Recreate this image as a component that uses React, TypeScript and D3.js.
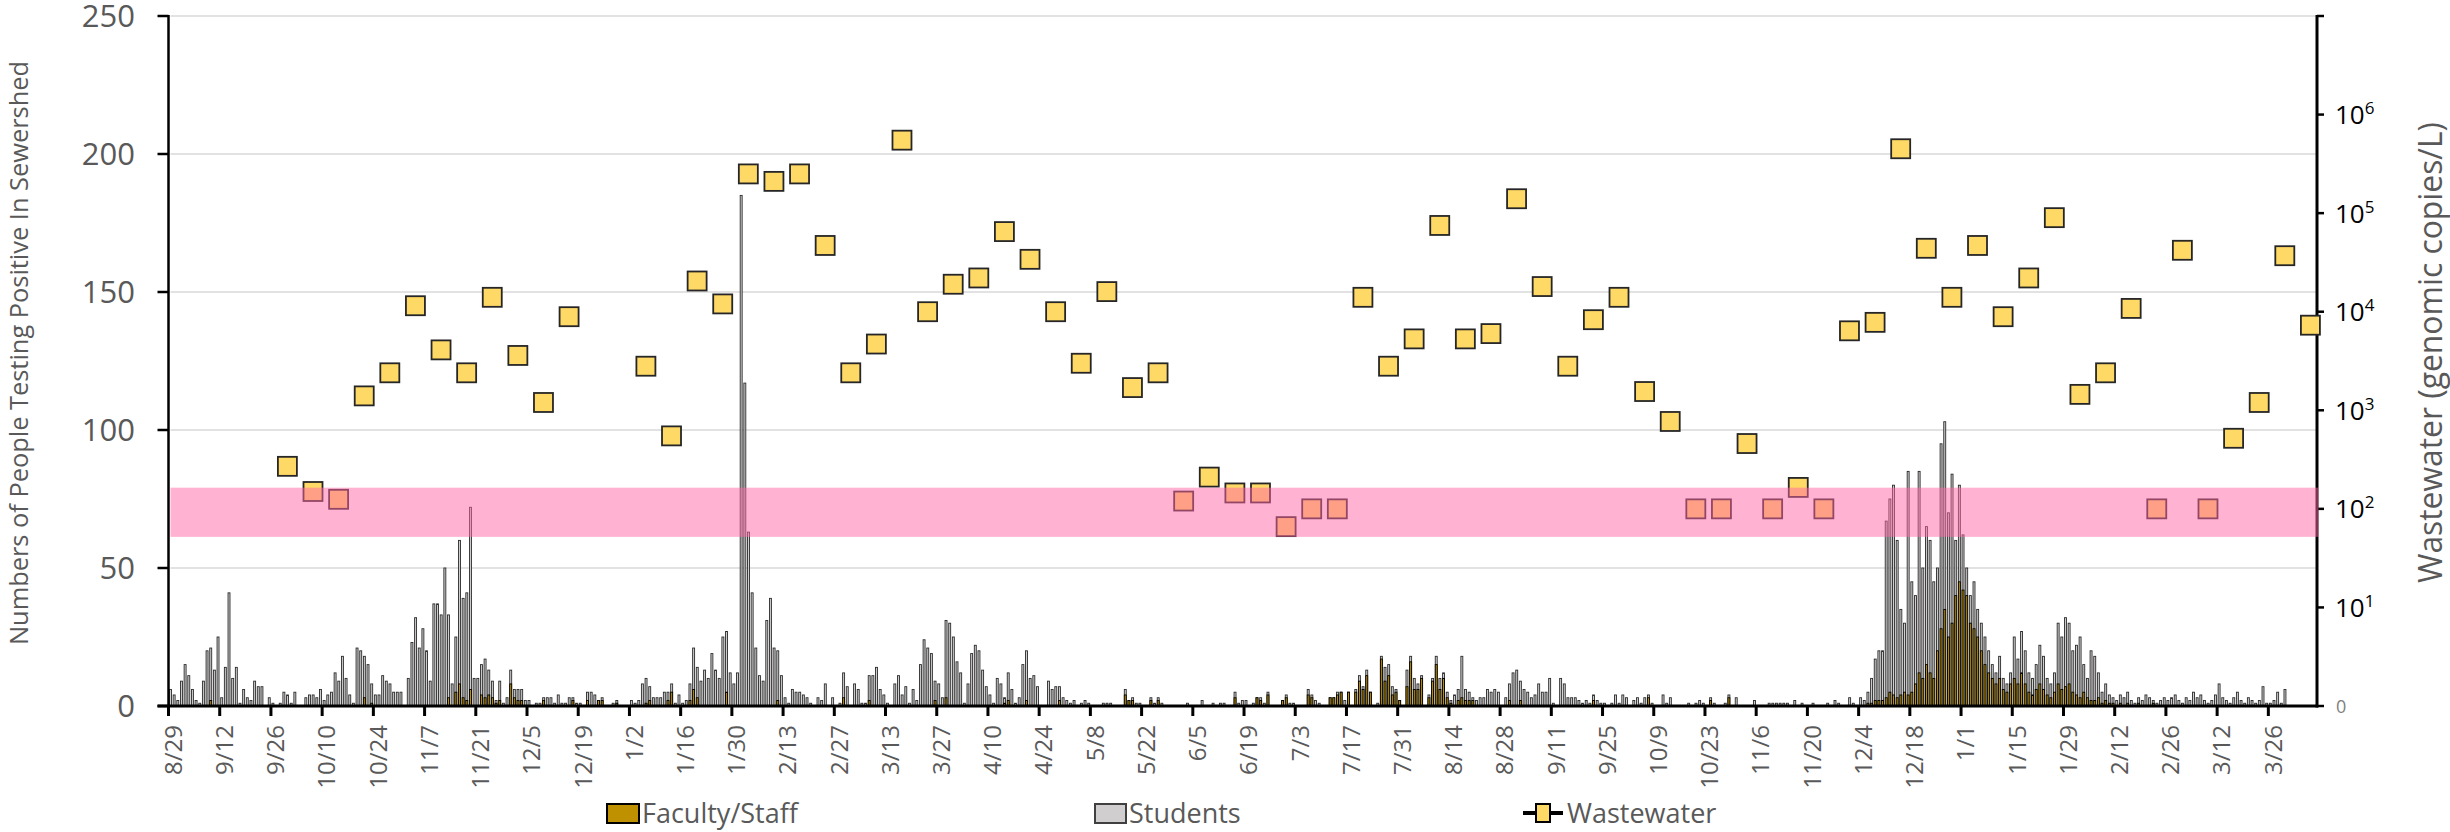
import React from "react";
import * as d3 from "d3";

// Daily positive tests; one row per two-week block, each row starting on an axis label date.
const FIRST_DAY = "2020-08-29";

const STUDENT_ROWS: number[][] = [
  [6, 4, 2, 9, 15, 11, 6, 2, 1, 9, 20, 21, 13, 25],
  [3, 14, 41, 10, 14, 1, 6, 3, 2, 9, 7, 7, 0, 3],
  [1, 0, 1, 5, 4, 1, 5, 0, 0, 3, 4, 4, 3, 6],
  [2, 4, 5, 12, 9, 18, 10, 4, 1, 21, 20, 18, 15, 8],
  [4, 4, 11, 9, 8, 5, 5, 5, 0, 10, 23, 32, 21, 28],
  [20, 9, 37, 37, 33, 50, 33, 8, 25, 60, 39, 41, 72, 10],
  [10, 15, 17, 13, 9, 2, 9, 1, 3, 13, 6, 6, 6, 2],
  [2, 0, 1, 1, 3, 3, 3, 1, 4, 1, 1, 3, 3, 1],
  [1, 0, 5, 5, 4, 2, 3, 0, 0, 1, 2, 0, 0, 0],
  [2, 1, 2, 8, 10, 7, 3, 3, 3, 5, 5, 8, 1, 4],
  [1, 2, 8, 21, 14, 9, 13, 10, 19, 13, 10, 25, 27, 12],
  [8, 12, 185, 117, 63, 41, 21, 11, 9, 31, 39, 21, 20, 11],
  [3, 1, 6, 5, 5, 4, 3, 1, 0, 3, 2, 8, 0, 3],
  [0, 1, 12, 7, 0, 8, 6, 1, 1, 11, 11, 14, 6, 4],
  [1, 0, 8, 11, 4, 7, 1, 6, 2, 15, 24, 21, 19, 9],
  [8, 3, 31, 30, 25, 16, 12, 1, 8, 19, 22, 20, 13, 7],
  [4, 1, 10, 8, 3, 12, 6, 1, 3, 15, 20, 10, 11, 7],
  [0, 0, 9, 6, 7, 7, 3, 2, 1, 2, 0, 1, 2, 1],
  [0, 0, 0, 1, 1, 1, 0, 0, 0, 6, 2, 3, 1, 1],
  [0, 0, 3, 1, 3, 1, 0, 0, 0, 0, 0, 0, 1, 0],
  [0, 0, 2, 0, 0, 1, 0, 1, 1, 0, 0, 5, 1, 2],
  [2, 0, 1, 3, 3, 1, 5, 0, 0, 0, 2, 4, 1, 1],
  [0, 0, 0, 6, 4, 2, 1, 0, 0, 3, 3, 5, 5, 2],
  [5, 0, 6, 11, 7, 13, 5, 0, 1, 18, 14, 15, 7, 6],
  [2, 0, 13, 18, 10, 8, 11, 0, 4, 10, 18, 10, 12, 5],
  [2, 4, 6, 18, 6, 5, 3, 2, 3, 3, 6, 5, 6, 5],
  [0, 3, 8, 12, 13, 9, 6, 5, 3, 4, 8, 5, 5, 10],
  [1, 0, 10, 8, 3, 3, 3, 2, 1, 2, 1, 4, 2, 1],
  [1, 0, 1, 4, 1, 4, 3, 0, 2, 3, 1, 3, 4, 1],
  [0, 0, 4, 1, 3, 0, 0, 0, 0, 1, 0, 1, 2, 1],
  [0, 3, 1, 0, 0, 1, 4, 0, 3, 0, 0, 0, 0, 2],
  [0, 0, 0, 1, 1, 1, 1, 1, 1, 0, 2, 0, 1, 0],
  [0, 1, 0, 0, 0, 1, 0, 2, 1, 0, 0, 3, 1, 0],
  [3, 2, 5, 10, 17, 20, 20, 67, 75, 80, 60, 35, 30, 85],
  [45, 40, 85, 50, 65, 60, 45, 50, 95, 103, 70, 84, 60, 80],
  [62, 50, 40, 45, 35, 30, 25, 20, 15, 12, 18, 10, 8, 12],
  [25, 17, 27, 20, 12, 10, 15, 22, 18, 10, 8, 12, 30, 25],
  [32, 30, 20, 22, 25, 15, 10, 20, 18, 12, 5, 8, 4, 3],
  [2, 4, 3, 5, 2, 1, 3, 2, 4, 3, 2, 1, 2, 3],
  [2, 3, 4, 2, 1, 3, 2, 5, 3, 4, 2, 1, 2, 4],
  [8, 3, 2, 1, 3, 5, 2, 1, 3, 2, 1, 2, 7, 1],
  [1, 2, 5, 1, 6],
];

const FACULTY_STAFF_ROWS: number[][] = [
  [0, 0, 0, 0, 0, 0, 0, 0, 0, 0, 0, 2, 0, 0],
  [0, 0, 0, 0, 0, 0, 0, 0, 0, 0, 0, 0, 0, 0],
  [0, 0, 0, 0, 0, 0, 0, 0, 0, 0, 0, 0, 0, 0],
  [0, 0, 0, 0, 0, 0, 0, 0, 0, 0, 0, 3, 0, 1],
  [0, 0, 0, 0, 0, 0, 0, 0, 0, 0, 0, 0, 0, 0],
  [0, 0, 0, 0, 0, 0, 3, 0, 5, 8, 3, 2, 6, 0],
  [0, 4, 3, 4, 3, 1, 2, 0, 0, 8, 3, 2, 2, 0],
  [0, 0, 0, 0, 2, 0, 0, 0, 0, 0, 0, 0, 2, 0],
  [0, 0, 2, 0, 0, 2, 2, 0, 0, 0, 1, 0, 0, 0],
  [0, 0, 0, 0, 1, 2, 0, 0, 0, 0, 2, 5, 0, 0],
  [0, 0, 2, 6, 3, 0, 0, 0, 0, 0, 0, 0, 5, 0],
  [0, 0, 0, 0, 0, 0, 0, 0, 0, 0, 0, 0, 2, 0],
  [0, 0, 0, 0, 0, 0, 0, 0, 0, 0, 0, 0, 0, 0],
  [0, 0, 3, 0, 0, 0, 0, 0, 0, 2, 0, 0, 0, 0],
  [0, 0, 0, 0, 0, 0, 0, 0, 0, 0, 0, 0, 0, 2],
  [0, 0, 3, 0, 0, 0, 0, 0, 0, 0, 0, 0, 0, 0],
  [0, 0, 0, 0, 1, 2, 0, 0, 0, 0, 2, 0, 0, 0],
  [0, 0, 0, 0, 0, 2, 0, 0, 0, 0, 0, 0, 0, 0],
  [0, 0, 0, 0, 0, 0, 0, 0, 0, 4, 2, 2, 0, 0],
  [0, 0, 2, 0, 2, 0, 0, 0, 0, 0, 0, 0, 0, 0],
  [0, 0, 0, 0, 0, 0, 0, 0, 0, 0, 0, 3, 0, 0],
  [0, 0, 0, 3, 2, 0, 4, 0, 0, 0, 2, 3, 0, 0],
  [0, 0, 0, 4, 3, 0, 0, 0, 0, 3, 3, 4, 5, 0],
  [5, 0, 5, 9, 6, 11, 5, 0, 0, 17, 9, 11, 4, 5],
  [2, 0, 7, 16, 6, 6, 10, 0, 3, 9, 15, 6, 10, 3],
  [1, 0, 2, 3, 2, 2, 2, 0, 0, 0, 0, 0, 0, 0],
  [0, 0, 2, 0, 0, 2, 0, 0, 0, 0, 0, 0, 0, 0],
  [0, 0, 0, 0, 0, 0, 0, 0, 0, 0, 0, 2, 0, 0],
  [0, 0, 0, 0, 0, 0, 0, 0, 0, 0, 0, 0, 3, 0],
  [0, 0, 0, 0, 0, 0, 0, 0, 0, 0, 0, 0, 0, 0],
  [0, 2, 0, 0, 0, 0, 3, 0, 0, 0, 0, 0, 0, 0],
  [0, 0, 0, 0, 0, 0, 0, 0, 0, 0, 0, 0, 0, 0],
  [0, 0, 0, 0, 0, 0, 0, 0, 0, 0, 0, 0, 0, 0],
  [0, 0, 1, 1, 2, 2, 2, 3, 5, 4, 3, 4, 5, 4],
  [5, 8, 12, 10, 15, 12, 10, 20, 28, 35, 25, 30, 40, 45],
  [42, 40, 30, 28, 25, 20, 15, 12, 10, 8, 10, 6, 5, 8],
  [10, 8, 12, 8, 5, 4, 6, 8, 6, 4, 3, 5, 8, 6],
  [7, 8, 5, 4, 3, 5, 3, 2, 2, 3, 1, 2, 1, 1],
  [0, 1, 0, 1, 0, 0, 1, 0, 0, 0, 1, 0, 0, 0],
  [0, 0, 0, 0, 0, 0, 0, 0, 0, 0, 0, 0, 0, 0],
  [0, 0, 0, 0, 0, 0, 0, 0, 0, 0, 0, 0, 0, 0],
  [0, 0, 0, 0, 0],
];

// Weekly wastewater samples (genomic copies per litre)
const WASTEWATER_DATES: string[] = [
  "2020-09-30", "2020-10-07", "2020-10-14", "2020-10-21", "2020-10-28", "2020-11-04",
  "2020-11-11", "2020-11-18", "2020-11-25", "2020-12-02", "2020-12-09", "2020-12-16",
  "2021-01-06", "2021-01-13", "2021-01-20", "2021-01-27", "2021-02-03", "2021-02-10",
  "2021-02-17", "2021-02-24", "2021-03-03", "2021-03-10", "2021-03-17", "2021-03-24",
  "2021-03-31", "2021-04-07", "2021-04-14", "2021-04-21", "2021-04-28", "2021-05-05",
  "2021-05-12", "2021-05-19", "2021-05-26", "2021-06-02", "2021-06-09", "2021-06-16",
  "2021-06-23", "2021-06-30", "2021-07-07", "2021-07-14", "2021-07-21", "2021-07-28",
  "2021-08-04", "2021-08-11", "2021-08-18", "2021-08-25", "2021-09-01", "2021-09-08",
  "2021-09-15", "2021-09-22", "2021-09-29", "2021-10-06", "2021-10-13", "2021-10-20",
  "2021-10-27", "2021-11-03", "2021-11-10", "2021-11-17", "2021-11-24", "2021-12-01",
  "2021-12-08", "2021-12-15", "2021-12-22", "2021-12-29", "2022-01-05", "2022-01-12",
  "2022-01-19", "2022-01-26", "2022-02-02", "2022-02-09", "2022-02-16", "2022-02-23",
  "2022-03-02", "2022-03-09", "2022-03-16", "2022-03-23", "2022-03-30", "2022-04-06",
];

const WASTEWATER_COPIES: number[] = [
  270, 150, 125, 1400, 2400, 11500, 4100, 2400, 14000, 3600, 1200, 8900,
  2800, 550, 20500, 12000, 250000, 210000, 250000, 47000, 2400, 4700, 550000, 10000,
  19000, 22000, 65000, 34000, 10000, 3000, 16000, 1700, 2400, 120, 210, 145,
  145, 66, 100, 100, 14000, 2800, 5300, 75000, 5300, 6000, 140000, 18000,
  2800, 8300, 14000, 1550, 770, 100, 100, 460, 100, 165, 100, 6400,
  7800, 450000, 44000, 14000, 47000, 8900, 22000, 90000, 1450, 2400, 10800, 100,
  42000, 100, 520, 1200, 37000, 7300,
];

// Shaded range on the wastewater axis (copies/L)
const SHADED_RANGE: [number, number] = [52, 164];

const COUNT_TICKS = [0, 50, 100, 150, 200, 250];
const COPY_EXPONENTS = [1, 2, 3, 4, 5, 6];

const STUDENTS = STUDENT_ROWS.flat();
const FACULTY_STAFF = FACULTY_STAFF_ROWS.flat();

const WIDTH = 2450;
const HEIGHT = 832;
const LEFT = 168.5;
const RIGHT = 2317;
const TOP = 16;
const BOTTOM = 706;
const FONT = "'Open Sans', 'DejaVu Sans', sans-serif";
const GREY_TEXT = "#595959";

export default function App() {
  const parse = d3.utcParse("%Y-%m-%d");
  const first = parse(FIRST_DAY) as Date;
  const last = new Date(+first + 587.3 * 864e5);

  const x = d3.scaleUtc().domain([first, last]).range([LEFT, RIGHT]);
  const yCount = d3.scaleLinear().domain([0, 250]).range([BOTTOM, TOP]);
  const yCopies = d3.scaleLog().domain([1, 1e7]).range([BOTTOM, TOP]);
  const dayW = x(d3.utcDay.offset(first, 1)) - x(first);
  const dateTicks = d3.utcDay.range(first, last, 14);
  const fmt = d3.utcFormat("%-m/%-d");
  const decadeTicks = d3.range(0, 8).map((e) => Math.pow(10, e));

  const barX = (i: number) => x(d3.utcDay.offset(first, i)) + 1.0;
  const barW = dayW - 1.7;

  return (
    <svg
      width={WIDTH}
      height={HEIGHT}
      style={{ position: "absolute", left: 0, top: 0, background: "#fff" }}
      fontFamily={FONT}
    >
      {/* horizontal gridlines */}
      {COUNT_TICKS.filter((t) => t > 0).map((t) => (
        <line key={"g" + t} x1={LEFT + 2} x2={RIGHT} y1={yCount(t)} y2={yCount(t)} stroke="#d9d9d9" strokeWidth={1.5} />
      ))}

      {/* student bars */}
      {STUDENTS.map((v, i) => (
        <rect
          key={"s" + i}
          x={barX(i)}
          y={yCount(v)}
          width={barW}
          height={yCount(0) - yCount(v)}
          fill="#d0cece"
          stroke="#2b2b2b"
          strokeWidth={0.9}
        />
      ))}

      {/* faculty / staff bars */}
      {FACULTY_STAFF.map((v, i) => (
        <rect
          key={"f" + i}
          x={barX(i)}
          y={yCount(v)}
          width={barW}
          height={yCount(0) - yCount(v)}
          fill="#bf9000"
          stroke="#000"
          strokeWidth={0.9}
        />
      ))}

      {/* left axis */}
      <line x1={LEFT} x2={LEFT} y1={TOP - 1} y2={BOTTOM} stroke="#000" strokeWidth={2.5} />
      {COUNT_TICKS.map((t) => (
        <g key={"lt" + t}>
          <line x1={157.5} x2={LEFT} y1={yCount(t)} y2={yCount(t)} stroke="#000" strokeWidth={2.5} />
          <text x={135} y={yCount(t) + 11} textAnchor="end" fontSize={31} fill={GREY_TEXT}>
            {t}
          </text>
        </g>
      ))}
      <text
        transform={`translate(28,353) rotate(-90)`}
        textAnchor="middle"
        fontSize={26}
        fill={GREY_TEXT}
        textLength={584}
        lengthAdjust="spacingAndGlyphs"
      >
        Numbers of People Testing Positive In Sewershed
      </text>

      {/* bottom axis */}
      <line x1={157.5} x2={RIGHT + 1} y1={BOTTOM} y2={BOTTOM} stroke="#000" strokeWidth={3} />
      {dateTicks.map((d, i) => (
        <g key={"xt" + i}>
          <line x1={x(d)} x2={x(d)} y1={BOTTOM} y2={BOTTOM + 10} stroke="#000" strokeWidth={3} />
          <text
            transform={`translate(${x(d) + 13.3},725) rotate(-90)`}
            textAnchor="end"
            fontSize={24}
            fill={GREY_TEXT}
          >
            {fmt(d)}
          </text>
        </g>
      ))}

      {/* right axis */}
      <line x1={RIGHT} x2={RIGHT} y1={TOP - 1} y2={BOTTOM + 1.5} stroke="#000" strokeWidth={3} />
      {decadeTicks.map((v) => (
        <line key={"rt" + v} x1={RIGHT} x2={RIGHT + 7} y1={yCopies(v)} y2={yCopies(v)} stroke="#000" strokeWidth={2.5} />
      ))}
      {COPY_EXPONENTS.map((e) => (
        <text key={"rl" + e} x={2335} y={yCopies(Math.pow(10, e)) + 9.5} fontSize={26} fill="#000">
          10
          <tspan fontSize={17} dy={-10}>
            {e}
          </tspan>
        </text>
      ))}
      <text x={2336} y={yCopies(1) + 6.5} fontSize={18} fill="#7f7f7f">
        0
      </text>
      <text
        transform={`translate(2442,352.5) rotate(-90)`}
        textAnchor="middle"
        fontSize={32}
        fill={GREY_TEXT}
        textLength={461}
        lengthAdjust="spacingAndGlyphs"
      >
        Wastewater (genomic copies/L)
      </text>

      {/* wastewater markers */}
      {WASTEWATER_DATES.map((ds, i) => {
        const cx = x(parse(ds) as Date) + dayW / 2;
        const cy = yCopies(WASTEWATER_COPIES[i]);
        return (
          <rect
            key={"w" + i}
            x={cx - 9.5}
            y={cy - 9.5}
            width={19}
            height={19}
            fill="#ffd966"
            stroke="#262626"
            strokeWidth={1.8}
          />
        );
      })}

      {/* translucent shaded range over everything */}
      <rect
        x={LEFT + 2}
        y={yCopies(SHADED_RANGE[1])}
        width={RIGHT + 1.5 - (LEFT + 2)}
        height={yCopies(SHADED_RANGE[0]) - yCopies(SHADED_RANGE[1])}
        fill="#ff66a3"
        fillOpacity={0.5}
      />

      {/* legend */}
      <g fontSize={27} fill={GREY_TEXT}>
        <rect x={607} y={804} width={32} height={19} fill="#bf9000" stroke="#000" strokeWidth={2} />
        <text x={642} y={823}>Faculty/Staff</text>
        <rect x={1095} y={804} width={31} height={19} fill="#d0cece" stroke="#404040" strokeWidth={2} />
        <text x={1129} y={823}>Students</text>
        <line x1={1523} x2={1563} y1={813} y2={813} stroke="#000" strokeWidth={4} />
        <rect x={1536} y={804} width={14} height={18} fill="#ffd966" stroke="#000" strokeWidth={2} />
        <text x={1567} y={823}>Wastewater</text>
      </g>
    </svg>
  );
}
